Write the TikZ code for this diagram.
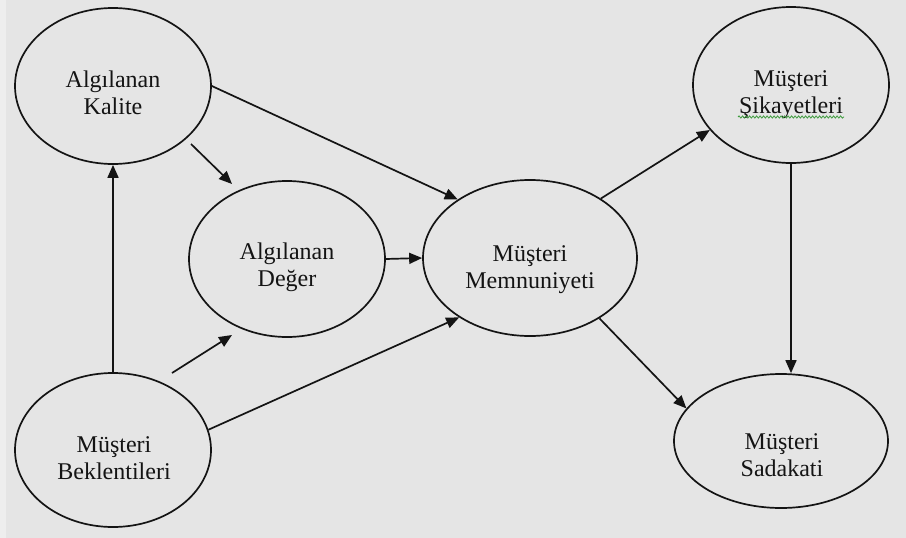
\documentclass[tikz,border=0pt]{standalone}
\usepackage{fontspec}
\setmainfont{Liberation Serif}
\usetikzlibrary{shapes.geometric,arrows.meta,decorations.pathmorphing}
\definecolor{bg}{HTML}{E5E5E5}
\definecolor{edgestrip}{HTML}{EEEEEE}
\definecolor{ink}{HTML}{141414}
\definecolor{squig}{HTML}{3C9A3C}

\begin{document}
\begin{tikzpicture}[x=1pt,y=-1pt,
  oval/.style={draw=ink, line width=1.7pt, ellipse, inner sep=0pt},
  lbl/.style={font=\fontsize{24}{27}\selectfont, align=center, text=ink, anchor=base, inner sep=0pt},
  arr/.style={draw=ink, line width=1.7pt, -{Triangle[length=13pt,width=11pt]}}]
% canvas
\fill[bg] (0,0) rectangle (906,538);
\fill[edgestrip] (0,0) rectangle (6,538);
\useasboundingbox (0,0) rectangle (906,538);

% constructs
\node[oval, minimum width=196pt, minimum height=156pt] (kal) at (113,86) {};
\node[oval, minimum width=196pt, minimum height=156pt] (deg) at (287,259) {};
\node[oval, minimum width=196pt, minimum height=154pt] (bek) at (113,450) {};
\node[oval, minimum width=214pt, minimum height=156pt] (mem) at (530,258) {};
\node[oval, minimum width=196pt, minimum height=156pt] (sik) at (791,85) {};
\node[oval, minimum width=214pt, minimum height=134pt] (sad) at (781,441) {};

% labels (anchored on the baseline of the second line)
\node[lbl] (tkal) at (113,114) {Algılanan\\Kalite};
\node[lbl] (tdeg) at (287,286) {Algılanan\\Değer};
\node[lbl] (tbek) at (114,479) {Müşteri\\Beklentileri};
\node[lbl] (tmem) at (530,288) {Müşteri\\Memnuniyeti};
\node[lbl] (tsik) at (791,113) {Müşteri\\Şikayetleri};
\node[lbl] (tsad) at (782,476) {Müşteri\\Sadakati};

% spell-check underline
\coordinate (sq1) at (738,117);
\coordinate (sq2) at (844,117);
\draw[squig, line width=0.8pt, decorate, decoration={snake, amplitude=1.1pt, segment length=3.5pt}] (sq1) -- (sq2);

% free-standing short arrows
\coordinate (k1) at (191,144);
\coordinate (d1) at (232,184);
\coordinate (b1) at (172,373);
\coordinate (d2) at (232,335);
\draw[arr] (k1) -- (d1);
\draw[arr] (b1) -- (d2);

% connectors
\draw[arr] (kal.east) -- (mem.141);
\draw[arr] (bek.north) -- (kal.south);
\draw[arr] (bek.12) -- (mem.220);
\draw[arr] (deg.east) -- (mem.west);
\draw[arr] (mem.40) -- (sik.209);
\draw[arr] (mem.-41) -- (sad.161);
\draw[arr] (sik.south) -- (sik.south |- sad.north);
\end{tikzpicture}
\end{document}
